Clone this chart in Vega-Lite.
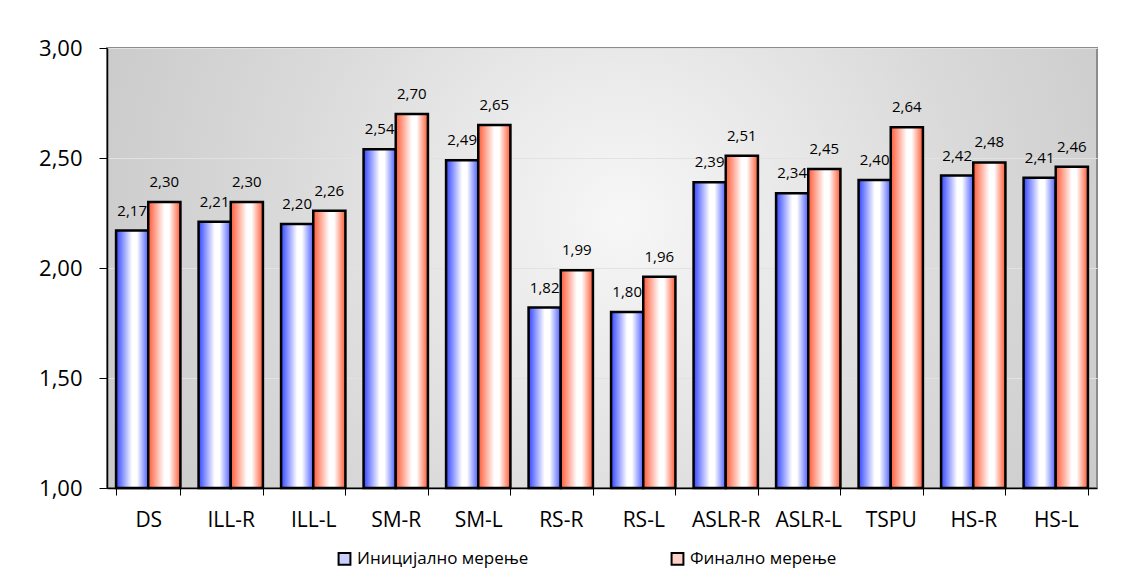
{
  "$schema": "https://vega.github.io/schema/vega-lite/v6.json",
  "width": 990,
  "height": 440,
  "autosize": {"type": "none"},
  "padding": {"left": 107, "top": 48, "right": 39, "bottom": 99},
  "background": "white",
  "config": {
    "locale": {"number": {"decimal": ",", "thousands": ".", "grouping": [3], "currency": ["", ""]}},
    "font": "Open Sans",
    "view": {
      "stroke": "#8c8c8c",
      "strokeWidth": 2,
      "fill": {
        "gradient": "radial",
        "x1": 0.52, "y1": 0.45, "r1": 0,
        "x2": 0.52, "y2": 0.45, "r2": 0.75,
        "stops": [
          {"offset": 0, "color": "#f7f7f7"},
          {"offset": 0.45, "color": "#dadada"},
          {"offset": 1, "color": "#bdbdbd"}
        ]
      }
    }
  },
  "data": {
    "values": [
      {"cat": "DS", "series": "Иницијално мерење", "value": 2.17},
      {"cat": "DS", "series": "Финално мерење", "value": 2.30},
      {"cat": "ILL-R", "series": "Иницијално мерење", "value": 2.21},
      {"cat": "ILL-R", "series": "Финално мерење", "value": 2.30},
      {"cat": "ILL-L", "series": "Иницијално мерење", "value": 2.20},
      {"cat": "ILL-L", "series": "Финално мерење", "value": 2.26},
      {"cat": "SM-R", "series": "Иницијално мерење", "value": 2.54},
      {"cat": "SM-R", "series": "Финално мерење", "value": 2.70},
      {"cat": "SM-L", "series": "Иницијално мерење", "value": 2.49},
      {"cat": "SM-L", "series": "Финално мерење", "value": 2.65},
      {"cat": "RS-R", "series": "Иницијално мерење", "value": 1.82},
      {"cat": "RS-R", "series": "Финално мерење", "value": 1.99},
      {"cat": "RS-L", "series": "Иницијално мерење", "value": 1.80},
      {"cat": "RS-L", "series": "Финално мерење", "value": 1.96},
      {"cat": "ASLR-R", "series": "Иницијално мерење", "value": 2.39},
      {"cat": "ASLR-R", "series": "Финално мерење", "value": 2.51},
      {"cat": "ASLR-L", "series": "Иницијално мерење", "value": 2.34},
      {"cat": "ASLR-L", "series": "Финално мерење", "value": 2.45},
      {"cat": "TSPU", "series": "Иницијално мерење", "value": 2.40},
      {"cat": "TSPU", "series": "Финално мерење", "value": 2.64},
      {"cat": "HS-R", "series": "Иницијално мерење", "value": 2.42},
      {"cat": "HS-R", "series": "Финално мерење", "value": 2.48},
      {"cat": "HS-L", "series": "Иницијално мерење", "value": 2.41},
      {"cat": "HS-L", "series": "Финално мерење", "value": 2.46}
    ]
  },
  "encoding": {
    "x": {
      "field": "cat", "type": "nominal", "sort": null,
      "scale": {"paddingInner": 0.22, "paddingOuter": 0.11},
      "axis": {
        "title": null, "labelAngle": 0, "labelFontSize": 21, "labelColor": "#000000",
        "labelPadding": 14, "tickSize": 7, "tickBand": "extent", "tickColor": "#000000",
        "domainColor": "#000000", "domainWidth": 1.5, "grid": false
      }
    },
    "xOffset": {"field": "series", "type": "nominal", "sort": ["Иницијално мерење", "Финално мерење"]},
    "y": {
      "field": "value", "type": "quantitative",
      "scale": {"domain": [1, 3], "zero": false, "nice": false},
      "axis": {
        "title": null, "values": [1, 1.5, 2, 2.5, 3], "format": ".2f",
        "labelFontSize": 22, "labelColor": "#000000", "labelPadding": 17,
        "tickSize": 8, "tickColor": "#000000", "domainColor": "#000000", "domainWidth": 1.5,
        "grid": true, "gridColor": "#e2e2e2", "gridWidth": 1
      }
    }
  },
  "layer": [
    {
      "mark": {"type": "bar"},
      "encoding": {
        "y2": {"datum": 1},
        "color": {
          "field": "series", "type": "nominal",
          "scale": {"domain": ["Иницијално мерење", "Финално мерење"], "range": ["#c9d0ff", "#ffd2c8"]},
          "legend": {
            "title": null, "orient": "none", "direction": "horizontal",
            "legendX": 229, "legendY": 502,
            "symbolType": "square", "symbolSize": 140, "symbolStrokeColor": "#000000", "symbolStrokeWidth": 2,
            "labelFontSize": 17, "labelColor": "#000000", "labelOffset": 4, "labelLimit": 400,
            "columnPadding": 138
          }
        }
      }
    },
    {
      "mark": {"type": "bar", "stroke": "#000000", "strokeWidth": 2.5},
      "encoding": {
        "y2": {"datum": 1},
        "fill": {
          "condition": {
            "test": "datum.series === 'Иницијално мерење'",
            "value": {
              "gradient": "linear", "x1": 0, "y1": 0, "x2": 1, "y2": 0,
              "stops": [
                {"offset": 0, "color": "#3346ff"},
                {"offset": 0.5, "color": "#ffffff"},
                {"offset": 0.65, "color": "#ffffff"},
                {"offset": 1, "color": "#4d5fff"}
              ]
            }
          },
          "value": {
            "gradient": "linear", "x1": 0, "y1": 0, "x2": 1, "y2": 0,
            "stops": [
              {"offset": 0, "color": "#ff5a36"},
              {"offset": 0.5, "color": "#ffffff"},
              {"offset": 0.65, "color": "#ffffff"},
              {"offset": 1, "color": "#ff5a36"}
            ]
          }
        }
      }
    },
    {
      "mark": {"type": "text", "dy": -20, "fontSize": 15, "color": "#000000"},
      "encoding": {"text": {"field": "value", "type": "quantitative", "format": ".2f"}}
    }
  ]
}
